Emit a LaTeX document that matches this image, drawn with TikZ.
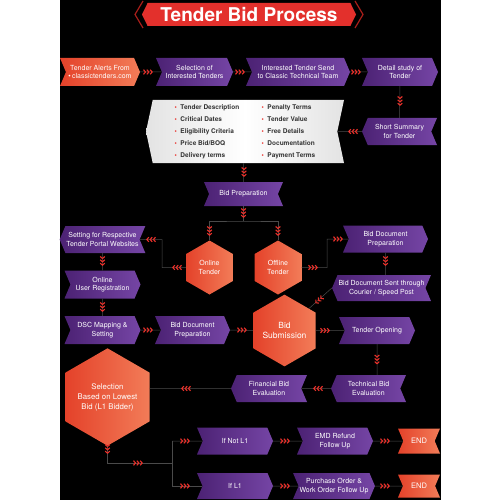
\documentclass[tikz,border=0pt]{standalone}
\usepackage{fontspec}
\setmainfont{TeX Gyre Heros}
\usetikzlibrary{shapes.symbols,shapes.geometric}

\definecolor{pur1}{HTML}{4C2274}
\definecolor{pur2}{HTML}{7545A5}
\definecolor{org1}{HTML}{E4422A}
\definecolor{org2}{HTML}{F27C58}
\definecolor{mkred}{HTML}{E8302A}
\definecolor{ttlred}{HTML}{E3302C}
\definecolor{ttldark}{HTML}{A81E1A}
\definecolor{linkgray}{HTML}{4A4A4A}

\newcommand{\tbul}{{\color{mkred}\textbullet}\hspace{3.5pt}}
\newcommand{\tcol}[1]{\makebox[87pt][l]{\tbul #1}}

\begin{document}
\begin{tikzpicture}[x=1pt,y=-1pt,
  every node/.style={text=white,inner sep=1pt,align=center,font=\fontsize{7}{8.5}\selectfont},
  cbox/.style={shape=signal,signal pointer angle=134,minimum height=27},
  rbox/.style={cbox,signal from=west,signal to=east},
  lbox/.style={cbox,signal from=east,signal to=west},
  ribbox/.style={cbox,signal from=west and east,signal to=nowhere},
  pfill/.style={left color=pur1,right color=pur2},
  ofill/.style={left color=org1,right color=org2},
  hexa/.style={regular polygon,regular polygon sides=6,shape border rotate=30,ofill,inner sep=0pt},
  link/.style={linkgray,line width=0.5pt},
  mk/.pic={
    \foreach \d in {-3.3,0,3.3}
      \draw[mkred,line width=1.1pt] (\d-1.2,-2.3) -- (\d+0.9,0) -- (\d-1.2,2.3);
  }]
\useasboundingbox (0,0) rectangle (500,500);
\fill[white] (0,0) rectangle (500,500);
\fill[black] (60,0) rectangle (441,500);

%%% TITLE %%%
\node[shape=signal,signal from=nowhere,signal to=west and east,signal pointer angle=128,fill=ttlred,minimum width=214,minimum height=23,font=\bfseries\fontsize{19}{19}\selectfont] at (249,14.5) (title) {Tender Bid Process};
\draw[ttldark,line width=1.2pt] (143,1) -- (135,14.5) -- (143,28);
\draw[ttldark,line width=1.2pt] (355,1) -- (363,14.5) -- (355,28);

%%% TOP ROW %%%
\node[rbox,ofill,minimum width=80,minimum height=28] at (100,72) (tender_alert) {Tender Alerts From\\\textbullet\,classictenders.com};
\node[rbox,pfill,minimum width=77,minimum height=28] at (194.5,72) (selection) {Selection of\\Interested Tenders};
\node[rbox,pfill,minimum width=104,minimum height=28] at (298,72) (send_team) {Interested Tender Send\\to Classic Technical Team};
\node[rbox,pfill,minimum width=76,minimum height=28] at (400,72) (detail_study) {Detail study of\\Tender};

\node[lbox,pfill,minimum width=75] at (399.5,131.5) (short_summary) {Short Summary\\for Tender};
\node[lbox,signal pointer angle=156,left color=gray!22,right color=gray!22,middle color=white,minimum width=198,minimum height=63,text=black!80,font=\bfseries\fontsize{6.5}{12}\selectfont] at (245,131.5) (details) {%
\begin{tabular}{@{}l@{}l@{}}
\tcol{Tender Description} & \tbul Penalty Terms\\
\tcol{Critical Dates} & \tbul Tender Value\\
\tcol{Eligibility Criteria} & \tbul Free Details\\
\tcol{Price Bid/BOQ} & \tbul Documentation\\
\tcol{Delivery terms} & \tbul Payment Terms
\end{tabular}};

\node[ribbox,pfill,minimum width=79,minimum height=24] at (243.5,194) (bid_prep) {Bid Preparation};

%%% ONLINE / OFFLINE %%%
\node[hexa,minimum size=54] at (209.5,267.5) (online) {Online\\Tender};
\node[hexa,minimum size=54] at (278,267.5) (offline) {Offline\\Tender};

\node[lbox,pfill,minimum width=83] at (102.5,239.5) (portal) {Setting for Respective\\Tender Portal Websites};
\node[rbox,pfill,minimum width=76,minimum height=28] at (102.5,284.5) (user_reg) {Online\\User Registration};
\node[rbox,pfill,minimum width=76,minimum height=28] at (102.5,330) (dsc) {DSC Mapping \&\\Setting};
\node[rbox,pfill,minimum width=75,minimum height=28] at (192.5,330) (doc_prep_on) {Bid Document\\Preparation};

\node[rbox,pfill,minimum width=85] at (385.5,239) (doc_prep_off) {Bid Document\\Preparation};
\node[lbox,pfill,minimum width=97,minimum height=26] at (381.5,288) (courier) {Bid Document Sent through\\Courier / Speed Post};

%%% EVALUATION %%%
\node[hexa,minimum size=63,font=\fontsize{8.5}{10}\selectfont] at (284.5,330.5) (bid_sub) {Bid\\Submission};
\node[rbox,pfill,minimum width=76] at (377,330.5) (opening) {Tender Opening};
\node[lbox,pfill,minimum width=75] at (368.5,388.5) (technical) {Technical Bid\\Evaluation};
\node[lbox,pfill,minimum width=76] at (269,388.5) (financial) {Financial Bid\\Evaluation};
\node[hexa,minimum size=88,font=\fontsize{7.8}{10}\selectfont] at (107.5,397) (selection_l1) {Selection\\Based on Lowest\\Bid (L1 Bidder)};

%%% RESULT %%%
\node[rbox,pfill,minimum width=76] at (235,441) (not_l1) {If Not L1};
\node[rbox,pfill,minimum width=76] at (335,441) (emd) {EMD Refund\\Follow Up};
\node[ribbox,ofill,minimum width=42,minimum height=25,font=\fontsize{7.5}{9}\selectfont] at (419,441) (end_a) {END};
\node[rbox,pfill,minimum width=76,minimum height=26] at (235,486) (is_l1) {If L1};
\node[rbox,pfill,minimum width=78,minimum height=26] at (334,486) (purchase) {Purchase Order \&\\Work Order Follow Up};
\node[ribbox,ofill,minimum width=42,minimum height=23,font=\fontsize{7.5}{9}\selectfont] at (419,486) (end_b) {END};

\coordinate (split) at (243.5,221);
\coordinate (bend_on) at (162,239.5);
\coordinate (bend_off) at (327,239);
\coordinate (fork) at (172,463);
\coordinate (fork_top) at (172,441);
\coordinate (fork_bot) at (172,486);

%%% LINKS %%%
\draw[link] (tender_alert) -- (selection);
\draw[link] (selection) -- (send_team);
\draw[link] (send_team) -- (detail_study);
\draw[link] (detail_study) -- (short_summary);
\draw[link] (short_summary) -- (details);
\draw[link] (bid_prep |- details.south) -- (bid_prep);
\draw[link] (bid_prep) -- (split);
\draw[link] (online) |- (split) -| (offline);
\draw[link] (online) -| (bend_on) -- (portal);
\draw[link] (offline) -| (bend_off) -- (doc_prep_off);
\draw[link] (portal) -- (user_reg);
\draw[link] (user_reg) -- (dsc);
\draw[link] (dsc) -- (doc_prep_on);
\draw[link] (doc_prep_on) -- (bid_sub);
\draw[link] (doc_prep_off) -- (doc_prep_off |- courier.north);
\draw[link] (courier.west) -- (bid_sub);
\draw[link] (bid_sub) -- (opening);
\draw[link] (opening) -- (opening |- technical.north);
\draw[link] (technical) -- (financial);
\draw[link] (financial) -- (financial -| selection_l1.east);
\draw[link] (selection_l1) |- (fork);
\draw[link] (fork_top) -- (fork_bot);
\draw[link] (fork_top) -- (not_l1);
\draw[link] (fork_bot) -- (is_l1);
\draw[link] (not_l1) -- (emd);
\draw[link] (emd) -- (end_a);
\draw[link] (is_l1) -- (purchase);
\draw[link] (purchase) -- (end_b);

%%% MARKS %%%
\pic at (148,72) {mk};
\pic at (240,72) {mk};
\pic at (356,72) {mk};
\pic[rotate=-90] at (400,101) {mk};
\pic[rotate=180] at (353,131.5) {mk};
\pic[rotate=-90] at (244,172) {mk};
\pic[rotate=-90] at (243.5,213) {mk};
\pic[rotate=-90] at (209.5,231) {mk};
\pic[rotate=-90] at (278,231) {mk};
\pic[rotate=180] at (151,239.5) {mk};
\pic[rotate=180] at (177,267.5) {mk};
\pic at (313,267.5) {mk};
\pic at (338,239) {mk};
\pic[rotate=-90] at (102.5,261) {mk};
\pic[rotate=-90] at (102.5,307) {mk};
\pic[rotate=-90] at (385.5,261) {mk};
\pic[rotate=-139] at (319,300) {mk};
\pic at (148,330) {mk};
\pic at (242,330) {mk};
\pic at (325,330.5) {mk};
\pic[rotate=-90] at (377,359.5) {mk};
\pic[rotate=180] at (318,388.5) {mk};
\pic[rotate=180] at (186,388.5) {mk};
\pic[rotate=-90] at (107.5,449) {mk};
\pic at (138,463) {mk};
\pic at (185,441) {mk};
\pic at (185,486) {mk};
\pic at (285,441) {mk};
\pic at (385,441) {mk};
\pic at (285,486) {mk};
\pic at (385,486) {mk};
\end{tikzpicture}
\end{document}
